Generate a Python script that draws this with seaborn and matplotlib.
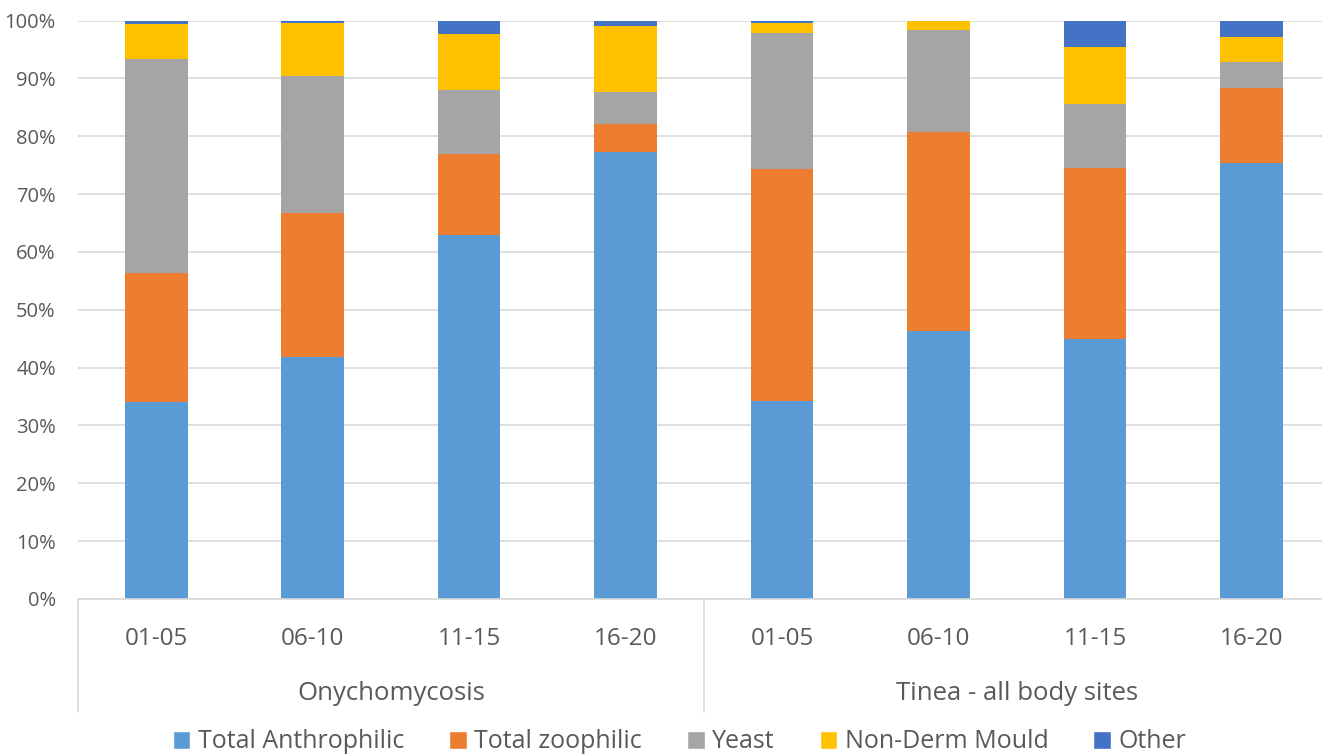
import matplotlib.pyplot as plt
import pandas as pd
import seaborn as sns
from matplotlib.patches import Patch
from matplotlib.transforms import blended_transform_factory

groups = ["Onychomycosis", "Tinea - all body sites"]
periods = ["01-05", "06-10", "11-15", "16-20"]
series = ["Total Anthrophilic", "Total zoophilic", "Yeast", "Non-Derm Mould", "Other"]

# percent of isolates, per bar (Onychomycosis 01-05 .. 16-20, Tinea 01-05 .. 16-20)
anthrophilic = [34.1, 41.8, 62.9, 77.3, 34.2, 46.3, 44.9, 75.4]
zoophilic = [22.3, 24.9, 14.0, 4.8, 40.1, 34.4, 29.6, 13.0]
yeast = [36.9, 23.7, 11.1, 5.5, 23.6, 17.7, 11.1, 4.4]
mould = [6.1, 9.2, 9.7, 11.5, 1.7, 1.6, 9.8, 4.4]
other = [0.6, 0.4, 2.3, 0.9, 0.4, 0.0, 4.6, 2.8]

colors = ["#5B9BD5", "#ED7D31", "#A5A5A5", "#FFC000", "#4472C4"]
text_col = "#595959"

bars = [f"{g} {p}" for g in groups for p in periods]
df = pd.DataFrame({"bar": bars, "Total Anthrophilic": anthrophilic,
                   "Total zoophilic": zoophilic, "Yeast": yeast,
                   "Non-Derm Mould": mould, "Other": other})
cum = df[series].cumsum(axis=1)
# rescale so each bar reaches 100%
cum = cum.div(cum["Other"], axis=0) * 100

sns.set_style("white")
plt.rcParams["font.family"] = ["Open Sans", "DejaVu Sans"]

fig = plt.figure(figsize=(13.22, 7.56), dpi=100)
ax = fig.add_axes([78 / 1322, 1 - 599 / 756, 1 - 78 / 1322, (599 - 20.5) / 756])

# draw cumulative totals from the top series down so they stack
for name, col in reversed(list(zip(series, colors))):
    sns.barplot(x=df["bar"], y=cum[name], order=bars, color=col, width=0.4,
                saturation=1, linewidth=0, ax=ax)

ax.set_ylim(0, 100)
ax.set_xlim(-0.5, 7.45)
ax.set_yticks(range(0, 101, 10))
ax.set_yticklabels([f"{v}%" for v in range(0, 101, 10)], fontsize=14.5, color=text_col)
ax.yaxis.grid(True, color="#D9D9D9", linewidth=1.2)
ax.set_axisbelow(True)
ax.set_xticks(range(len(bars)))
ax.set_xticklabels(periods * 2, fontsize=17.5, color=text_col)
ax.tick_params(axis="x", length=0, pad=20)
ax.tick_params(axis="y", length=0, pad=16)
ax.set_xlabel("")
ax.set_ylabel("")
for s in ["top", "right", "left"]:
    ax.spines[s].set_visible(False)
ax.spines["bottom"].set_color("#D9D9D9")
ax.spines["bottom"].set_linewidth(1.2)

trans = blended_transform_factory(ax.transData, ax.transAxes)
for xs in [-0.5, 3.5]:
    ax.plot([xs, xs], [0, -(712 - 599) / 578.5], color="#D9D9D9", lw=1.2,
            transform=trans, clip_on=False)
for i, g in enumerate(groups):
    ax.text(1.5 + 4 * i, -(694 - 599) / 578.5, g, transform=trans, ha="center",
            va="center", fontsize=18.5, color=text_col)

handles = [Patch(facecolor=c, label=s) for s, c in zip(series, colors)]
fig.legend(handles=handles, loc="center", bbox_to_anchor=(0.514, 1 - 742 / 756),
           ncol=5, frameon=False, fontsize=18, labelcolor=text_col,
           handlelength=0.7, handleheight=0.7, handletextpad=0.3, columnspacing=1.8)

fig.savefig("out.png", dpi=100)
